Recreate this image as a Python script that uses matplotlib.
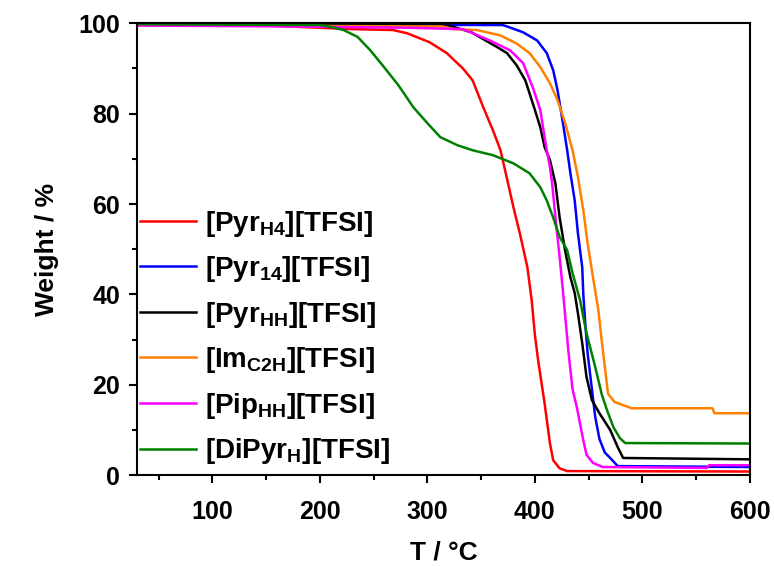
import matplotlib
matplotlib.use("Agg")
import matplotlib.pyplot as plt

plt.rcParams['font.family'] = ['Liberation Sans', 'DejaVu Sans']
plt.rcParams['font.weight'] = 'bold'
plt.rcParams['mathtext.fontset'] = 'custom'
plt.rcParams['mathtext.rm'] = 'Liberation Sans:bold'
plt.rcParams['mathtext.bf'] = 'Liberation Sans:bold'
plt.rcParams['mathtext.default'] = 'bf'

# TGA curves (T in degC, weight in %)
red_T = [30, 150, 230, 268, 281, 302, 318, 333, 342, 352, 361, 368, 375, 380, 386, 393, 397, 400, 403, 409, 414, 417, 423, 430, 600]
red_W = [99.7, 99.5, 98.7, 98.5, 97.8, 95.8, 93.4, 90, 87.4, 81.4, 76.3, 71.9, 64.6, 59.3, 53.5, 46, 38.7, 31, 25.4, 15.9, 7, 3.3, 1.5, 0.9, 0.8]

blue_T = [30, 370, 374, 389, 402, 411, 417, 421, 426, 430, 433, 437, 440, 444, 445, 447, 449, 453, 456, 460, 465, 470, 477, 600]
blue_W = [99.8, 99.6, 99.3, 98, 96.2, 93.4, 89.6, 85.2, 78, 71.9, 66.8, 60.8, 53.5, 46, 40, 33, 27, 19, 13, 8, 5, 3.8, 2.0, 1.8]

black_T = [30, 320, 341, 365, 374, 383, 391, 395, 400, 405, 409, 414, 419, 423, 428, 433, 437, 440, 444, 448, 453, 460, 470, 477, 482, 600]
black_W = [99.8, 99.5, 98, 94.7, 93.4, 90.7, 87.4, 84.5, 80.8, 77, 72.6, 69.7, 64.6, 57, 49.8, 43.8, 40.3, 35.8, 29.2, 21.7, 16.6, 13.7, 10, 6.2, 3.8, 3.5]

orange_T = [30, 286, 314, 324, 346, 368, 383, 395, 405, 414, 421, 428, 435, 440, 445, 449, 454, 459, 462, 465, 468, 474, 482, 490, 565, 567, 600]
orange_W = [99.6, 99.3, 99.3, 98.7, 98.5, 97.3, 95.5, 93.4, 90.3, 86.7, 83, 78, 71.9, 66, 58.6, 51.3, 43.8, 36.5, 30, 24, 18, 16.2, 15.5, 14.8, 14.8, 13.7, 13.7]

magenta_T = [30, 163, 284, 333, 342, 358, 377, 389, 398, 405, 408, 411, 414, 416, 420, 423, 426, 431, 435, 439, 445, 448, 454, 463, 560, 562, 600]
magenta_W = [99.5, 99.3, 99.0, 98.7, 97.8, 96.2, 94, 91.2, 85.8, 80.8, 76.3, 71.9, 68.1, 64.6, 54.9, 48.2, 40.9, 27.7, 19, 15, 7.7, 4.5, 2.7, 1.8, 1.6, 2.2, 2.2]

green_T = [30, 200, 208, 222, 235, 247, 259, 273, 287, 300, 312, 328, 342, 361, 380, 395, 405, 411, 417, 423, 430, 435, 442, 448, 456, 462, 467, 473, 479, 484, 600]
green_W = [99.8, 99.6, 99.3, 98.5, 97.0, 94, 90.5, 86.3, 81.4, 77.9, 74.8, 73, 71.9, 70.8, 69, 66.8, 63.7, 60.8, 57, 52.7, 49.8, 44.7, 38.7, 31.4, 24, 18, 14.4, 10.6, 8.2, 7.1, 7.0]

labels = [r'[Pyr$_{H4}$][TFSI]', r'[Pyr$_{14}$][TFSI]', r'[Pyr$_{HH}$][TFSI]',
          r'[Im$_{C2H}$][TFSI]', r'[Pip$_{HH}$][TFSI]', r'[DiPyr$_{H}$][TFSI]']
colors = ['#ff0000', '#0000ff', '#000000', '#ff8000', '#ff00ff', '#008000']

series = [(red_T, red_W), (blue_T, blue_W), (black_T, black_W),
          (orange_T, orange_W), (magenta_T, magenta_W), (green_T, green_W)]

fig = plt.figure(figsize=(7.74, 5.67), dpi=100)
ax = fig.add_axes([0.177, 0.162, 0.792, 0.797])

for (t, w), c, lab in zip(series, colors, labels):
    ax.plot(t, w, color=c, lw=1.8, label=lab)

ax.set_xlim(30, 600)
ax.set_ylim(0, 100)
ax.set_xticks([100, 200, 300, 400, 500, 600])
ax.set_xticks(range(50, 601, 100), minor=True)
ax.set_yticks([0, 20, 40, 60, 80, 100])
ax.set_yticks(range(10, 100, 20), minor=True)
ax.tick_params(which='major', direction='out', length=6, width=1.5, labelsize=18)
ax.tick_params(axis='x', which='major', pad=12)
ax.tick_params(axis='y', which='major', pad=6)
ax.tick_params(which='minor', direction='out', length=3.5, width=1.5)
for s in ax.spines.values():
    s.set_linewidth(1.5)

ax.set_xlabel('T / °C', fontsize=19, fontweight='bold', labelpad=12)
ax.set_ylabel('Weight / %', fontsize=19, fontweight='bold', labelpad=14)

leg = ax.legend(loc='upper left', bbox_to_anchor=(0.005, 0.59), frameon=False,
                fontsize=20, handlelength=2.0, handletextpad=0.35,
                labelspacing=0.56, borderpad=0, borderaxespad=0)

fig.savefig('out.png', dpi=100)
